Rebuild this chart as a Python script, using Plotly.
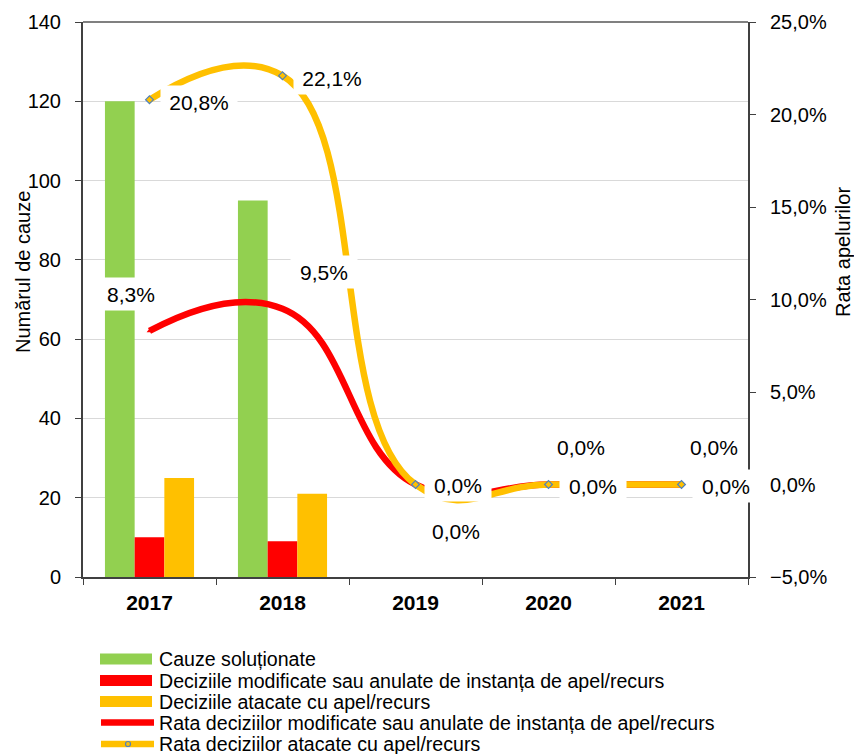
import plotly.graph_objects as go

# ---------------- data ----------------
years = ["2017", "2018", "2019", "2020", "2021"]
cauze_solutionate = [120, 95, 0, 0, 0]
decizii_modificate = [10, 9, 0, 0, 0]
decizii_atacate = [25, 21, 0, 0, 0]
rata_modificate = [0.083, 0.095, 0.0, 0.0, 0.0]
rata_atacate = [0.208, 0.221, 0.0, 0.0, 0.0]

series_names = [
    "Cauze soluționate",
    "Deciziile modificate sau anulate de instanța de apel/recurs",
    "Deciziile atacate cu apel/recurs",
    "Rata deciziilor modificate sau anulate de instanța de apel/recurs",
    "Rata deciziilor atacate cu apel/recurs",
]

# ---------------- style ----------------
W, H = 854, 754
# plot area in page pixels: left 83, right 748, top 22, bottom 577
ML, MR, MT, MB = 83, 854 - 748, 22, 754 - 577
PW, PH = W - ML - MR, H - MT - MB
FONT = "Liberation Sans, Arial, sans-serif"
GREEN, RED, YELLOW, BLUE = "#92D050", "#FF0000", "#FFC000", "#4F81BD"
AXIS = "#404040"


def px(x):  # pixel x -> paper
    return (x - ML) / PW


def py(y):  # pixel y -> paper
    return (MT + PH - y) / PH


def pct(v):
    return f"{v * 100:.1f}%".replace(".", ",")


idx = list(range(len(years)))

fig = go.Figure()
fig.add_trace(go.Bar(x=idx, y=cauze_solutionate, name=series_names[0],
                     marker_color=GREEN, marker_line_width=0))
fig.add_trace(go.Bar(x=idx, y=decizii_modificate, name=series_names[1],
                     marker_color=RED, marker_line_width=0))
fig.add_trace(go.Bar(x=idx, y=decizii_atacate, name=series_names[2],
                     marker_color=YELLOW, marker_line_width=0))
fig.add_trace(go.Scatter(x=idx, y=rata_modificate, name=series_names[3], yaxis="y2",
                         mode="lines+markers",
                         line=dict(color=RED, width=6.5, shape="spline", smoothing=1.3),
                         marker=dict(symbol="triangle-up", size=5, color=RED)))
fig.add_trace(go.Scatter(x=idx, y=rata_atacate, name=series_names[4], yaxis="y2",
                         mode="lines+markers",
                         line=dict(color=YELLOW, width=6.5, shape="spline", smoothing=1.3),
                         marker=dict(symbol="diamond", size=6, color=YELLOW,
                                     line=dict(color=BLUE, width=1.2))))

# ---------------- data labels (white boxes) ----------------
yellow_offsets = [(49.5, -2.5), (49.5, -2.4), (42.5, -0.5), (44.5, -1.5), (44.5, -1.5)]
red_offsets = [(-18.5, 36.5), (41.5, 37), (40.5, -46.5), (32.5, 37.5), (32.5, 37.5)]
annotations = []
for vals, offs in ((rata_modificate, red_offsets), (rata_atacate, yellow_offsets)):
    for i, v, (dx, dy) in zip(idx, vals, offs):
        t = pct(v)
        annotations.append(dict(
            x=i, y=v, xref="x", yref="y2", text=t, showarrow=False,
            xshift=dx, yshift=dy, xanchor="center", yanchor="middle",
            font=dict(family=FONT, size=21, color="#000000"),
            bgcolor="#FFFFFF", borderpad=0,
            width=76 if len(t) > 4 else 66, height=32,
        ))

# axis titles
annotations.append(dict(x=px(23), y=py(272), xref="paper", yref="paper",
                        text="Numărul de cauze", textangle=-90, showarrow=False,
                        font=dict(family=FONT, size=20, color="#000000"),
                        xanchor="center", yanchor="middle"))
annotations.append(dict(x=px(843), y=py(252), xref="paper", yref="paper",
                        text="Rata apelurilor", textangle=-90, showarrow=False,
                        font=dict(family=FONT, size=20, color="#000000"),
                        xanchor="center", yanchor="middle"))

# ---------------- manual legend ----------------
shapes = []
leg_rows = [659, 680.5, 701.5, 722.5, 744]
for i, (name, yc) in enumerate(zip(series_names, leg_rows)):
    if i < 3:
        col = [GREEN, RED, YELLOW][i]
        shapes.append(dict(type="rect", xref="paper", yref="paper",
                           x0=px(100), x1=px(152), y0=py(yc + 5.5), y1=py(yc - 5.5),
                           fillcolor=col, line_width=0, layer="above"))
    else:
        col = [RED, YELLOW][i - 3]
        shapes.append(dict(type="line", xref="paper", yref="paper",
                           x0=px(101), x1=px(154), y0=py(yc), y1=py(yc),
                           line=dict(color=col, width=6.5), layer="above"))
        if i == 4:
            shapes.append(dict(type="circle", xref="paper", yref="paper",
                               x0=px(125.5), x1=px(130.5), y0=py(yc + 2.5), y1=py(yc - 2.5),
                               fillcolor=YELLOW, line=dict(color=BLUE, width=1.2),
                               layer="above"))
    annotations.append(dict(x=px(157), y=py(yc), xref="paper", yref="paper",
                            text=name, showarrow=False, xanchor="left", yanchor="middle",
                            font=dict(family=FONT, size=19.6, color="#000000")))

# top border of plot area
shapes.append(dict(type="line", xref="paper", yref="paper", x0=0, x1=1, y0=1, y1=1,
                   line=dict(color="#808080", width=2), layer="above"))

fig.update_layout(
    width=W, height=H,
    margin=dict(l=ML, r=MR, t=MT, b=MB, pad=0, autoexpand=False),
    paper_bgcolor="#FFFFFF", plot_bgcolor="#FFFFFF",
    separators=",.",
    barmode="group", bargap=0.33, bargroupgap=0,
    showlegend=False,
    font=dict(family=FONT, color="#000000"),
    xaxis=dict(tickmode="array", tickvals=idx, ticktext=years, automargin=False,
               ticks="", showline=True, linecolor=AXIS, linewidth=2,
               showgrid=False, range=[-0.5, 4.5], ticklabelstandoff=6,
               tickfont=dict(family=FONT, size=21, color="#000000", weight="bold")),
    xaxis2=dict(overlaying="x", range=[-0.5, 4.5], tickmode="array", automargin=False,
                tickvals=[i - 0.5 for i in idx] + [len(idx) - 0.5], ticktext=[""] * 6,
                ticks="outside", ticklen=7, tickcolor=AXIS, tickwidth=1, side="bottom",
                showline=False, showgrid=False, anchor="y", zeroline=False),
    yaxis=dict(range=[0, 140], dtick=20, ticks="outside", ticklen=6, tickcolor=AXIS,
               showline=True, linecolor=AXIS, linewidth=2, showgrid=True, automargin=False,
               gridcolor="#D9D9D9", gridwidth=1, zeroline=False, ticklabelstandoff=10,
               tickfont=dict(family=FONT, size=20, color="#000000")),
    yaxis2=dict(range=[-0.05, 0.25], dtick=0.05, tickformat=".1%", overlaying="y",
                side="right", ticks="outside", ticklen=6, tickcolor=AXIS, showline=True,
                linecolor=AXIS, linewidth=2, showgrid=False, zeroline=False,
                ticklabelstandoff=10, automargin=False,
                tickfont=dict(family=FONT, size=20, color="#000000")),
    annotations=annotations,
    shapes=shapes,
)
# an invisible trace to show the boundary ticks axis
fig.add_trace(go.Scatter(x=[-0.5], y=[0], xaxis="x2", mode="markers",
                         marker=dict(opacity=0), hoverinfo="skip", showlegend=False))

fig.write_html("out.html", config={"displayModeBar": False},
               post_script="document.body.style.margin='0';"
                           "document.body.style.overflow='hidden';")
